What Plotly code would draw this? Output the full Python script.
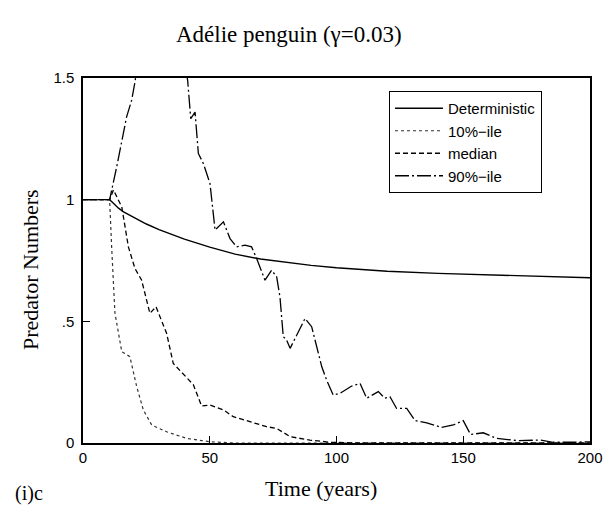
import plotly.graph_objects as go

# Time points and values
det_t = [0, 10.5, 12, 14, 16, 20, 25, 30, 35, 40, 50, 60, 70, 80, 90, 100, 120, 140, 160, 180, 200]
det_v = [1.0, 1.0, 0.985, 0.965, 0.95, 0.927, 0.9, 0.877, 0.856, 0.838, 0.805, 0.776, 0.756, 0.742,
         0.73, 0.72, 0.706, 0.697, 0.69, 0.684, 0.679]

p10_t = [0, 10.5, 11.3, 12.6, 15.3, 18.5, 21.2, 23.8, 27.1, 33, 40.9, 50, 60, 200]
p10_v = [1.0, 1.0, 0.806, 0.534, 0.375, 0.355, 0.231, 0.136, 0.074, 0.046, 0.019, 0.005, 0.0, 0.0]

med_t = [0, 10.5, 12, 15.3, 17.9, 20.5, 23.1, 26.4, 28.8, 31.7, 33, 35.6, 38.9, 43.5, 46.8,
         50, 55.4, 59.3, 64.5, 72.4, 76.4, 81.7, 89.5, 97.4, 110, 200]
med_v = [1.0, 1.0, 1.04, 0.97, 0.806, 0.717, 0.67, 0.533, 0.56, 0.478, 0.45, 0.327, 0.29, 0.24, 0.152,
         0.156, 0.136, 0.108, 0.092, 0.067, 0.06, 0.026, 0.012, 0.003, 0.0, 0.0]

p90_t = [0, 10.5, 13.3, 15.3, 17.2, 19.2, 20.5, 25, 30, 35, 41.3, 42.5, 44.2, 45.5, 47.5, 50.1,
         52.1, 55.4, 58, 60.6, 63.9, 66.5, 68.5, 71.8, 74.4, 76.4, 77.7, 79, 80.3, 81.7, 84.3,
         87.6, 90.2, 92.2, 94.2, 96.1, 98.7, 101.4, 106, 109.3, 111.9, 116.5, 119.1, 121.1,
         123.7, 127.7, 131, 135.6, 141.5, 146.1, 150, 152.9, 157.9, 163.2, 171.1, 180.3,
         185.5, 192, 200]
p90_v = [1.0, 1.0, 1.135, 1.244, 1.34, 1.409, 1.484, 1.8, 2.0, 1.9, 1.488, 1.333, 1.36, 1.19, 1.148, 1.066,
         0.875, 0.909, 0.84, 0.806, 0.813, 0.806, 0.758, 0.669, 0.71, 0.683, 0.6, 0.437, 0.423, 0.389, 0.444,
         0.512, 0.478, 0.389, 0.313, 0.259, 0.197, 0.204, 0.234, 0.245, 0.184, 0.211, 0.184, 0.19,
         0.142, 0.142, 0.092, 0.083, 0.064, 0.074, 0.092, 0.035, 0.042, 0.019, 0.01, 0.012,
         0.003, 0.003, 0.005]

x_ticks = [0, 50, 100, 150, 200]
x_labels = ["0", "50", "100", "150", "200"]
y_ticks = [0, 0.5, 1, 1.5]
y_labels = ["0", ".5", "1", "1.5"]

names = ["Deterministic", "10%\u2212ile", "median", "90%\u2212ile"]

fig = go.Figure()
fig.add_trace(go.Scatter(x=det_t, y=det_v, mode="lines", name=names[0],
                         line=dict(color="black", width=1.4)))
fig.add_trace(go.Scatter(x=p10_t, y=p10_v, mode="lines", name=names[1],
                         line=dict(color="#333", width=1.2, dash="dot")))
fig.add_trace(go.Scatter(x=med_t, y=med_v, mode="lines", name=names[2],
                         line=dict(color="black", width=1.3, dash="5px,3px")))
fig.add_trace(go.Scatter(x=p90_t, y=p90_v, mode="lines", name=names[3],
                         line=dict(color="black", width=1.3, dash="14px,3px,2px,3px")))

sans = "Liberation Sans, Arial, sans-serif"
serif = "Liberation Serif, Times New Roman, serif"

W, H = 608, 507
l, r, t, b = 83, 18, 78, 64
pw, ph = W - l - r, H - t - b

fig.update_layout(
    width=W, height=H,
    margin=dict(l=l, r=r, t=t, b=b, autoexpand=False),
    paper_bgcolor="white", plot_bgcolor="white",
    showlegend=True,
    legend=dict(x=(389 - l) / pw, y=(H - b - 91) / ph, xanchor="left", yanchor="top",
                bordercolor="black", borderwidth=1, bgcolor="white",
                font=dict(family=sans, size=15, color="black"),
                tracegroupgap=0, itemwidth=48),
    xaxis=dict(range=[0, 200], tickvals=x_ticks, ticktext=x_labels,
               ticks="inside", ticklen=7, tickcolor="black", automargin=False,
               showline=True, linecolor="black", linewidth=1.5, mirror=True,
               showgrid=False, zeroline=False,
               tickfont=dict(family=sans, size=15, color="black")),
    yaxis=dict(range=[0, 1.5], tickvals=y_ticks, ticktext=y_labels,
               ticks="inside", ticklen=7, tickcolor="black", automargin=False,
               showline=True, linecolor="black", linewidth=1.5, mirror=True,
               showgrid=False, zeroline=False, ticklabelstandoff=4,
               tickfont=dict(family=sans, size=15, color="black")),
)

# text positioned in page pixels, converted to paper coords
texts = [
    ("Adélie penguin (\u03b3=0.03)", 289, 35, 0, 23),
    ("Predator Numbers", 30, 270, -90, 22),
    ("Time (years)", 321, 488, 0, 22),
    ("(i)c", 29, 493, 0, 20),
]
for txt, px, py, ang, sz in texts:
    fig.add_annotation(text=txt, xref="paper", yref="paper",
                       x=(px - l) / pw, y=(H - b - py) / ph,
                       xanchor="center", yanchor="middle", textangle=ang,
                       showarrow=False, font=dict(family=serif, size=sz, color="black"))

fig.write_html("out.html")
